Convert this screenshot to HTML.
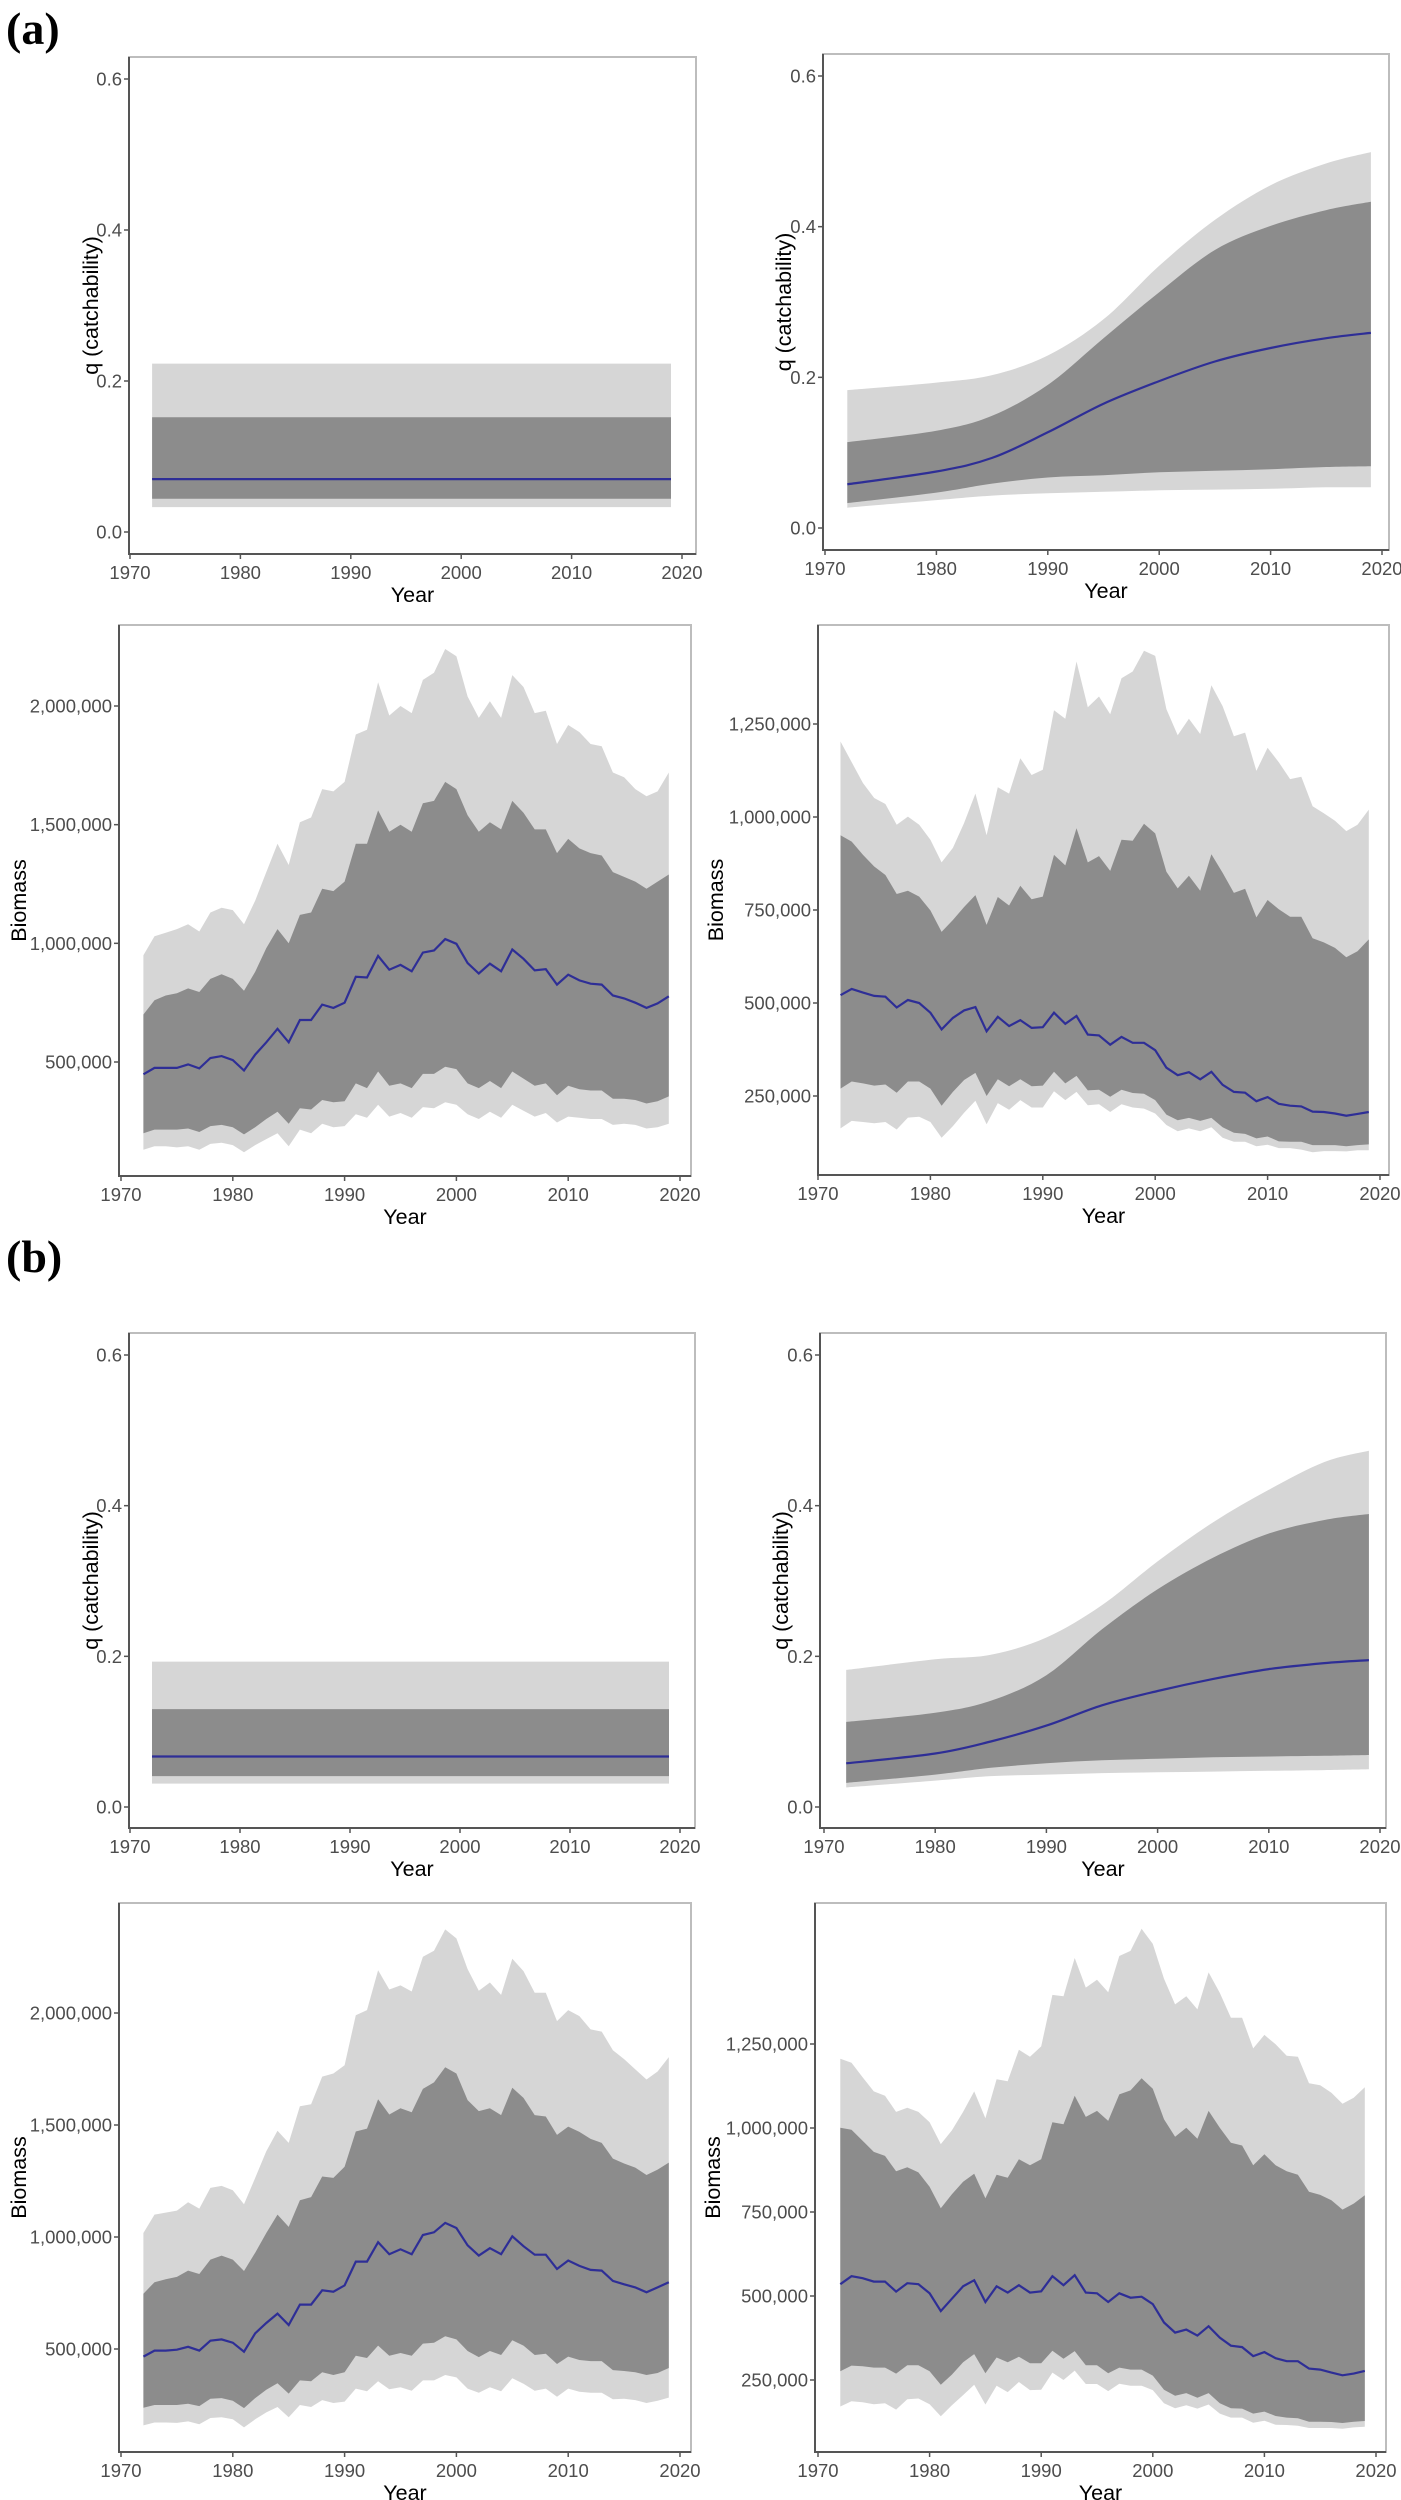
<!DOCTYPE html>
<html><head><meta charset="utf-8">
<style>
html,body{margin:0;padding:0;background:#fff;}
svg{display:block;font-family:"Liberation Sans",Arial,sans-serif;}
.tick{fill:#4d4d4d;font-size:18.5px;}
.title{fill:#000;font-size:21.5px;}
.panel-label{font-family:"Liberation Serif",serif;font-weight:bold;font-size:46px;fill:#000;}
</style></head>
<body>
<svg id="fig" width="1401" height="2500" viewBox="0 0 1401 2500">
<text class="panel-label" x="6" y="44">(a)</text>
<text class="panel-label" x="6" y="1272">(b)</text>
</svg>
<script>
// ---------- data ----------
const years = [];
for (let y = 1972; y <= 2019; y++) years.push(y);
const qYears = [1972,1980,1985,1990,1995,2000,2005,2010,2015,2019];
const qTicks = [0.0,0.2,0.4,0.6];
const qTickLabels = ["0.0","0.2","0.4","0.6"];
const bmLeftTicks = [500000,1000000,1500000,2000000];
const bmLeftTickLabels = ["500,000","1,000,000","1,500,000","2,000,000"];
const bmRightTicks = [250000,500000,750000,1000000,1250000];
const bmRightTickLabels = ["250,000","500,000","750,000","1,000,000","1,250,000"];
const xTicks = [1970,1980,1990,2000,2010,2020];

const aqL_u95 = [0.223,0.223], aqL_u50=[0.152,0.152], aqL_med=[0.070,0.070], aqL_l50=[0.044,0.044], aqL_l95=[0.033,0.033];
const aqR_med = [0.058,0.075,0.093,0.127,0.165,0.195,0.221,0.239,0.252,0.259];
const aqR_u50 = [0.114,0.129,0.149,0.190,0.252,0.313,0.369,0.401,0.422,0.433];
const aqR_u95 = [0.183,0.193,0.203,0.229,0.277,0.348,0.409,0.455,0.484,0.499];
const aqR_l50 = [0.033,0.047,0.059,0.067,0.070,0.074,0.076,0.078,0.081,0.082];
const aqR_l95 = [0.027,0.037,0.043,0.046,0.048,0.050,0.051,0.052,0.054,0.054];
const abL_med = [448,475,475,475,490,473,517,525,508,464,531,583,640,583,677,677,742,728,750,859,856,947,889,909,882,961,970,1018,998,917,873,914,882,974,935,886,891,826,868,844,830,826,780,768,750,728,747,777];
const abL_u95 = [950,1030,1045,1060,1080,1050,1130,1150,1140,1080,1180,1300,1420,1330,1510,1530,1650,1640,1680,1880,1900,2100,1960,2000,1970,2110,2140,2240,2210,2040,1950,2020,1950,2130,2080,1970,1980,1840,1920,1890,1840,1830,1720,1700,1650,1620,1640,1720];
const abL_u50 = [700,760,780,790,810,795,850,870,850,800,880,980,1060,1000,1120,1130,1230,1220,1260,1420,1420,1560,1470,1500,1470,1590,1600,1680,1650,1540,1470,1510,1480,1600,1550,1480,1480,1380,1440,1400,1380,1370,1300,1280,1260,1230,1260,1290];
const abL_l50 = [200,215,215,215,220,205,230,235,225,195,225,260,290,240,305,300,340,330,335,410,390,460,400,410,390,450,450,480,470,410,390,420,390,460,430,400,410,360,400,385,380,380,345,345,340,325,335,355];
const abL_l95 = [130,145,145,140,145,130,155,160,150,120,150,175,200,145,215,200,240,225,230,280,265,320,270,285,265,310,305,330,320,280,260,290,265,320,295,270,285,245,270,265,260,260,235,240,235,220,225,240];
const abR_med = [521,538,528,519,517,488,508,500,474,429,460,480,489,424,463,438,454,433,435,474,444,465,415,413,388,409,393,393,373,326,306,314,295,315,280,261,259,236,247,229,224,222,208,207,203,197,202,207];
const abR_u95 = [1203,1147,1091,1051,1035,979,1001,979,939,878,917,984,1063,951,1080,1063,1158,1113,1127,1287,1264,1418,1295,1324,1276,1373,1391,1447,1433,1290,1220,1264,1223,1354,1298,1217,1227,1124,1186,1147,1102,1108,1029,1010,990,962,979,1020];
const abR_u50 = [951,934,898,867,844,793,802,786,749,691,723,758,790,710,785,762,815,779,786,898,870,970,878,895,855,939,936,982,956,853,808,842,802,900,850,796,807,730,777,752,732,732,674,663,648,623,639,671];
const abR_l50 = [270,289,284,278,281,259,289,289,270,224,261,293,312,250,295,276,295,276,278,315,284,304,265,267,248,267,258,256,239,200,185,191,183,191,166,151,148,136,141,128,127,127,118,118,118,115,118,120];
const abR_l95 = [163,183,180,177,180,160,192,194,180,138,169,205,237,174,231,213,239,219,219,263,239,261,225,228,207,228,219,216,203,172,155,163,155,166,138,127,127,115,119,110,110,106,99,102,102,101,104,104];
const bqL_u95 = [0.193,0.193], bqL_u50=[0.130,0.130], bqL_med=[0.067,0.067], bqL_l50=[0.041,0.041], bqL_l95=[0.031,0.031];
const bqR_med = [0.058,0.071,0.087,0.108,0.135,0.154,0.170,0.183,0.191,0.195];
const bqR_u50 = [0.113,0.125,0.141,0.175,0.236,0.289,0.331,0.363,0.381,0.389];
const bqR_u95 = [0.182,0.196,0.202,0.225,0.268,0.326,0.378,0.421,0.458,0.473];
const bqR_l50 = [0.032,0.043,0.052,0.058,0.062,0.064,0.066,0.067,0.068,0.069];
const bqR_l95 = [0.026,0.035,0.041,0.043,0.045,0.046,0.047,0.048,0.049,0.050];
const bbL_med = [466,493,493,497,510,493,537,543,528,488,570,616,658,607,698,698,762,756,784,890,890,977,923,945,923,1009,1021,1063,1040,963,917,950,923,1003,959,921,921,857,895,871,853,850,804,789,775,753,775,798];
const bbL_u95 = [1018,1100,1109,1118,1155,1127,1219,1228,1209,1146,1264,1383,1474,1420,1584,1593,1716,1730,1767,1990,2013,2191,2105,2123,2096,2251,2278,2373,2333,2196,2099,2136,2081,2242,2187,2090,2090,1964,2013,1986,1927,1917,1834,1794,1748,1703,1739,1803];
const bbL_u50 = [747,798,811,822,850,835,899,917,899,848,930,1018,1100,1045,1164,1178,1270,1264,1314,1471,1484,1615,1547,1575,1557,1661,1690,1758,1730,1611,1562,1575,1544,1666,1621,1544,1538,1456,1493,1469,1438,1420,1350,1328,1310,1277,1301,1332];
const bbL_l50 = [238,250,250,250,256,245,278,281,269,236,281,318,347,301,360,356,396,384,396,470,460,515,470,482,470,524,528,557,543,491,464,491,473,539,515,473,479,433,466,451,446,446,406,402,396,384,393,415];
const bbL_l95 = [159,172,172,170,177,164,192,195,186,150,186,217,241,195,250,241,272,259,265,323,311,356,320,329,314,360,360,384,373,323,305,329,311,369,345,314,323,287,323,309,305,305,276,278,272,259,269,283];
const bbR_med = [535,559,553,543,543,513,538,535,508,455,492,529,547,482,529,510,532,510,514,559,532,562,510,508,482,508,495,498,476,421,391,400,382,410,376,352,348,321,333,315,306,306,284,281,272,264,269,277];
const bbR_u95 = [1206,1194,1151,1109,1096,1048,1060,1048,1017,952,993,1048,1109,1029,1145,1139,1233,1212,1243,1396,1392,1506,1418,1441,1404,1512,1527,1593,1548,1444,1368,1392,1353,1463,1402,1328,1328,1237,1277,1249,1215,1212,1133,1127,1105,1072,1090,1121];
const bbR_u50 = [1001,995,962,929,917,871,883,868,825,761,803,840,864,791,861,852,907,889,907,1017,1011,1096,1033,1051,1021,1100,1112,1148,1117,1026,974,1001,968,1051,1001,956,948,889,922,889,871,861,810,801,785,757,775,800];
const bbR_l50 = [276,293,291,287,287,269,294,294,276,236,266,303,327,270,317,303,319,300,300,337,313,336,294,294,270,287,281,281,263,221,203,211,197,211,181,166,165,150,156,143,138,136,126,126,125,122,126,128];
const bbR_l95 = [171,187,184,178,181,162,193,195,178,142,175,205,236,177,233,214,244,220,221,272,250,278,238,238,217,239,233,233,220,181,166,175,165,177,150,138,138,123,129,117,116,114,107,107,107,105,109,111];

// ---------- drawing ----------
const NS = "http://www.w3.org/2000/svg";
const svg = document.getElementById("fig");
function mk(tag, attrs, parent) {
  const e = document.createElementNS(NS, tag);
  for (const k in attrs) e.setAttribute(k, attrs[k]);
  (parent || svg).appendChild(e);
  return e;
}
function linScale(d0, d1, r0, r1) { return v => r0 + (v - d0) / (d1 - d0) * (r1 - r0); }
function smoothPath(pts) {
  let d = "M" + pts[0][0].toFixed(1) + "," + pts[0][1].toFixed(1);
  for (let i = 0; i < pts.length - 1; i++) {
    const p0 = pts[i - 1] || pts[i], p1 = pts[i], p2 = pts[i + 1], p3 = pts[i + 2] || p2;
    const c1 = [p1[0] + (p2[0] - p0[0]) / 6, p1[1] + (p2[1] - p0[1]) / 6];
    const c2 = [p2[0] - (p3[0] - p1[0]) / 6, p2[1] - (p3[1] - p1[1]) / 6];
    d += "C" + c1.join(",") + " " + c2.join(",") + " " + p2[0].toFixed(1) + "," + p2[1].toFixed(1);
  }
  return d;
}
function linePath(pts) { return "M" + pts.map(p => p[0].toFixed(1) + "," + p[1].toFixed(1)).join("L"); }
function revSmooth(pts) { return smoothPath(pts.slice().reverse()).replace(/^M/, "L"); }

function panel(cfg) {
  const g = mk("g", {});
  
  
  const x = linScale(1970, 2020, cfg.x0, cfg.x1);
  const y = linScale(cfg.yd0, cfg.yd1, cfg.yr0, cfg.yr1);
  const xs = cfg.xs, sc = cfg.scale || 1;
  const P = arr => arr.map((v, i) => [x(xs[i]), y(v * sc)]);
  const path = cfg.smooth ? smoothPath : linePath;
  const rpath = cfg.smooth ? (p => revSmooth(p)) : (p => "L" + linePath(p.slice().reverse()).slice(1));
  const b95 = mk("path", {d: path(P(cfg.u95)) + rpath(P(cfg.l95)) + "Z", fill: "#d6d6d6"}, g);
  
  
  const b50 = mk("path", {d: path(P(cfg.u50)) + rpath(P(cfg.l50)) + "Z", fill: "#8c8c8c"}, g);
  
  
  const ln = mk("path", {d: path(P(cfg.med)), fill: "none", stroke: "#2e2e96", "stroke-width": 2.2}, g);
  
  
  const fr = mk("rect", {x: cfg.L, y: cfg.T, width: cfg.R - cfg.L, height: cfg.B - cfg.T, fill: "none", stroke: "#bdbdbd", "stroke-width": 2}, g);
  
  
  const ax = mk("path", {d: `M${cfg.L},${cfg.T}L${cfg.L},${cfg.B}L${cfg.R},${cfg.B}`, fill: "none", stroke: "#555", "stroke-width": 2}, g);
  
  
  cfg.yt.forEach((v, i) => {
    const yy = y(v);
    mk("line", {x1: cfg.L - 5, x2: cfg.L, y1: yy, y2: yy, stroke: "#555", "stroke-width": 1.5}, g);
    const t = mk("text", {x: cfg.L - 7, y: yy + 6.5, "text-anchor": "end", class: "tick"}, g);
    t.textContent = cfg.ytl[i];
    
    
  });
  xTicks.forEach(v => {
    const xx = x(v);
    mk("line", {x1: xx, x2: xx, y1: cfg.B, y2: cfg.B + 5, stroke: "#555", "stroke-width": 1.5}, g);
    const t = mk("text", {x: xx, y: cfg.B + 25, "text-anchor": "middle", class: "tick"}, g);
    t.textContent = String(v);
    
    
  });
  const xt = mk("text", {x: (cfg.L + cfg.R) / 2, y: cfg.B + 48, "text-anchor": "middle", class: "title"}, g);
  xt.textContent = "Year";
  
  
  const yt = mk("text", {x: 0, y: 0, "text-anchor": "middle", class: "title", transform: `translate(${cfg.ytx},${(cfg.T + cfg.B) / 2}) rotate(-90)`}, g);
  yt.textContent = cfg.ytitle;
  
  
}

const qEnds = [1972, 2019];
panel({name:"a-q-constant", L:129,R:696,T:57,B:554, x0:130,x1:682, yd0:0,yd1:0.6,yr0:532,yr1:79,
  xs:qEnds, u95:aqL_u95,u50:aqL_u50,med:aqL_med,l50:aqL_l50,l95:aqL_l95, yt:qTicks,ytl:qTickLabels, ytx:98, ytitle:"q (catchability)"});
panel({name:"a-q-varying", L:823,R:1389,T:54,B:550, x0:825,x1:1382, yd0:0,yd1:0.6,yr0:528,yr1:76, smooth:true,
  xs:qYears, u95:aqR_u95,u50:aqR_u50,med:aqR_med,l50:aqR_l50,l95:aqR_l95, yt:qTicks,ytl:qTickLabels, ytx:791, ytitle:"q (catchability)"});
panel({name:"a-biomass-left", L:119,R:691,T:625,B:1176, x0:121,x1:680, yd0:500000,yd1:2000000,yr0:1062,yr1:706, scale:1000,
  xs:years, u95:abL_u95,u50:abL_u50,med:abL_med,l50:abL_l50,l95:abL_l95, yt:bmLeftTicks,ytl:bmLeftTickLabels, ytx:26, ytitle:"Biomass"});
panel({name:"a-biomass-right", L:818,R:1389,T:625,B:1175, x0:818,x1:1380, yd0:250000,yd1:1250000,yr0:1096,yr1:724, scale:1000,
  xs:years, u95:abR_u95,u50:abR_u50,med:abR_med,l50:abR_l50,l95:abR_l95, yt:bmRightTicks,ytl:bmRightTickLabels, ytx:723, ytitle:"Biomass"});
panel({name:"b-q-constant", L:129,R:695,T:1333,B:1828, x0:130,x1:680, yd0:0,yd1:0.6,yr0:1807,yr1:1355,
  xs:qEnds, u95:bqL_u95,u50:bqL_u50,med:bqL_med,l50:bqL_l50,l95:bqL_l95, yt:qTicks,ytl:qTickLabels, ytx:98, ytitle:"q (catchability)"});
panel({name:"b-q-varying", L:820,R:1386,T:1333,B:1828, x0:824,x1:1380, yd0:0,yd1:0.6,yr0:1807,yr1:1355, smooth:true,
  xs:qYears, u95:bqR_u95,u50:bqR_u50,med:bqR_med,l50:bqR_l50,l95:bqR_l95, yt:qTicks,ytl:qTickLabels, ytx:788, ytitle:"q (catchability)"});
panel({name:"b-biomass-left", L:119,R:691,T:1903,B:2452, x0:121,x1:680, yd0:500000,yd1:2000000,yr0:2349,yr1:2013, scale:1000,
  xs:years, u95:bbL_u95,u50:bbL_u50,med:bbL_med,l50:bbL_l50,l95:bbL_l95, yt:bmLeftTicks,ytl:bmLeftTickLabels, ytx:26, ytitle:"Biomass"});
panel({name:"b-biomass-right", L:815,R:1386,T:1903,B:2452, x0:818,x1:1376, yd0:250000,yd1:1250000,yr0:2380,yr1:2044, scale:1000,
  xs:years, u95:bbR_u95,u50:bbR_u50,med:bbR_med,l50:bbR_l50,l95:bbR_l95, yt:bmRightTicks,ytl:bmRightTickLabels, ytx:720, ytitle:"Biomass"});
</script>
</body></html>
